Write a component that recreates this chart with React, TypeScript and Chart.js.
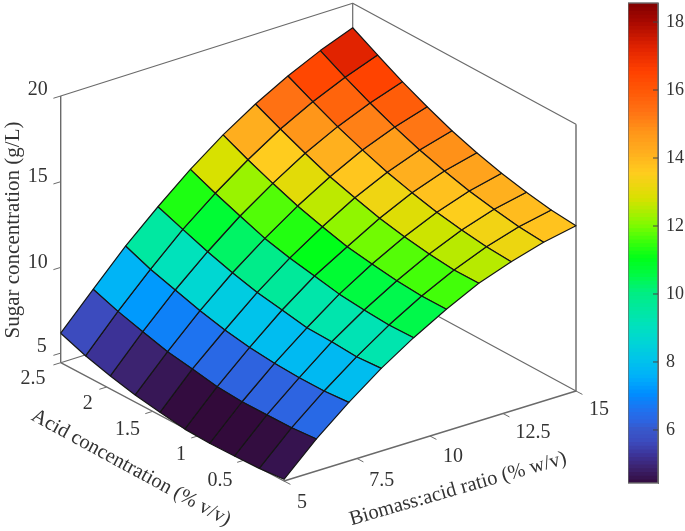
import React, { useEffect, useRef } from "react";
import { Chart, registerables } from "chart.js";

Chart.register(...registerables);

const FONT = '"Liberation Serif", "Times New Roman", serif';
const TEXT = "#333333";
const BOX = "#6a6a6a";

// Surface data: rows run along biomass ratio, columns along acid concentration
const biomassValues = [5, 6.11, 7.22, 8.33, 9.44, 10.56, 11.67, 12.78, 13.89, 15];
const acidValues = [2.5, 2.23, 1.96, 1.69, 1.42, 1.15, 0.88, 0.61, 0.34, 0.07];
const sugarRow0 = [6.16, 5.61, 5.2, 4.86, 4.61, 4.4, 4.34, 4.36, 4.41, 4.54];
const sugarRow1 = [8.14, 7.62, 7.2, 6.8, 6.56, 6.29, 6.18, 6.18, 6.2, 6.31];
const sugarRow2 = [10.08, 9.49, 9.05, 8.61, 8.25, 8.0, 7.84, 7.77, 7.76, 7.86];
const sugarRow3 = [11.79, 11.24, 10.7, 10.24, 9.86, 9.6, 9.33, 9.28, 9.17, 9.26];
const sugarRow4 = [13.39, 12.76, 12.2, 11.66, 11.28, 11.0, 10.71, 10.55, 10.44, 10.47];
const sugarRow5 = [14.81, 14.13, 13.52, 12.96, 12.52, 12.12, 11.88, 11.67, 11.55, 11.54];
const sugarRow6 = [16.03, 15.34, 14.69, 14.09, 13.63, 13.2, 12.89, 12.65, 12.48, 12.47];
const sugarRow7 = [17.08, 16.35, 15.66, 15.07, 14.53, 14.11, 13.73, 13.46, 13.26, 13.15];
const sugarRow8 = [17.98, 17.19, 16.46, 15.82, 15.25, 14.79, 14.39, 14.09, 13.84, 13.7];
const sugarRow9 = [18.73, 17.91, 17.12, 16.42, 15.79, 15.27, 14.84, 14.5, 14.23, 14.08];
const sugarGrid = [sugarRow0, sugarRow1, sugarRow2, sugarRow3, sugarRow4, sugarRow5, sugarRow6, sugarRow7, sugarRow8, sugarRow9];

const acidTicks = [2.5, 2, 1.5, 1, 0.5];
const acidTickLabels = ["2.5", "2", "1.5", "1", "0.5"];
const biomassTicks = [5, 7.5, 10, 12.5, 15];
const biomassTickLabels = ["5", "7.5", "10", "12.5", "15"];
const sugarTicks = [5, 10, 15, 20];

const colorValues = [4.35, 4.6, 4.86, 5.2, 5.6, 6, 6.2, 6.56, 7, 7.5, 8, 8.5, 9, 9.5, 10, 10.5, 11, 11.5, 12, 12.75, 13.5, 14.1, 14.7, 15.3, 16, 16.5, 17.2, 18, 18.56];
const colorStops = [
  [50, 10, 58], [55, 22, 85], [60, 35, 112], [60, 50, 150], [60, 75, 190], [55, 90, 205], [45, 100, 225], [30, 115, 240],
  [0, 140, 255], [0, 175, 250], [0, 195, 235], [0, 212, 215], [0, 225, 190], [0, 232, 160], [0, 238, 130], [0, 250, 70],
  [0, 255, 25], [60, 255, 10], [130, 250, 0], [215, 225, 0], [255, 205, 30], [255, 175, 30], [255, 150, 25], [255, 115, 20],
  [255, 85, 5], [255, 65, 0], [225, 35, 0], [165, 8, 0], [125, 0, 0],
];

const ZMIN = 4.44;
const ZMAX = 20;
const ACID_HI = 2.5;
const ACID_LO = 0.07;
const BIO_LO = 5;
const BIO_HI = 15;

// Orthographic view of the 3D axes box, expressed in the chart's own linear scales
const VIEW_A = { x: 60.7, y: 362.7 };
const VIEW_F = { x: 284, y: 481 };
const VIEW_R = { x: 576, y: 391 };
const VIEW_ZSPAN = 266.7;
const BACK_LIFT = 2.7;

function project(acid: number, biomass: number, z: number) {
  const v = (ACID_HI - acid) / (ACID_HI - ACID_LO);
  const u = (biomass - BIO_LO) / (BIO_HI - BIO_LO);
  const h = ((z - ZMIN) / (ZMAX - ZMIN)) * VIEW_ZSPAN;
  return {
    x: VIEW_A.x + v * (VIEW_F.x - VIEW_A.x) + u * (VIEW_R.x - VIEW_F.x),
    y: VIEW_A.y + v * (VIEW_F.y - VIEW_A.y) + u * (VIEW_R.y - VIEW_F.y) - h,
  };
}

// The back corner of the box sits slightly higher than a pure parallelogram
function backCorner(z: number) {
  const p = project(ACID_HI, BIO_HI, z);
  return { x: p.x, y: p.y - BACK_LIFT };
}

function colorFor(value: number) {
  let k = 0;
  while (k < colorValues.length - 2 && value > colorValues[k + 1]) k++;
  const t = Math.max(0, Math.min(1, (value - colorValues[k]) / (colorValues[k + 1] - colorValues[k])));
  const c = colorStops[k].map((a, n) => Math.round(a + t * (colorStops[k + 1][n] - a)));
  return `rgb(${c[0]},${c[1]},${c[2]})`;
}

function lineDataset(points: { x: number; y: number }[], color: string, width: number, order: number) {
  return {
    data: points,
    borderColor: color,
    borderWidth: width,
    backgroundColor: "transparent",
    pointRadius: 0,
    tension: 0,
    fill: false,
    order,
  };
}

function buildSurface() {
  const sets: any[] = [];
  for (let j = 0; j < biomassValues.length - 1; j++) {
    for (let i = 0; i < acidValues.length - 1; i++) {
      const corners: [number, number][] = [[j, i], [j, i + 1], [j + 1, i + 1], [j + 1, i], [j, i]];
      const pts = corners.map(([b, a]) => project(acidValues[a], biomassValues[b], sugarGrid[b][a]));
      sets.push({
        data: pts,
        borderColor: "#151515",
        borderWidth: 1.2,
        backgroundColor: colorFor(sugarGrid[j][i + 1]),
        pointRadius: 0,
        tension: 0,
        fill: "shape",
        order: 1,
      });
    }
  }
  return sets;
}

function buildBox() {
  const c = (a: number, b: number, z: number) => project(a, b, z);
  const sets: any[] = [];
  const back = [
    [c(ACID_HI, BIO_LO, ZMIN), backCorner(ZMIN), c(ACID_LO, BIO_HI, ZMIN)],
    [c(ACID_HI, BIO_LO, ZMAX), backCorner(ZMAX), c(ACID_LO, BIO_HI, ZMAX)],
    [backCorner(ZMIN), backCorner(ZMAX)],
  ];
  back.forEach((p) => sets.push(lineDataset(p, BOX, 1.2, 5)));
  const ruled = [
    [c(ACID_HI, BIO_LO, ZMIN), c(ACID_HI, BIO_LO, ZMAX)],
    [c(ACID_HI, BIO_LO, ZMIN), c(ACID_LO, BIO_LO, ZMIN), c(ACID_LO, BIO_HI, ZMIN), c(ACID_LO, BIO_HI, ZMAX)],
  ];
  ruled.forEach((p) => sets.push(lineDataset(p, BOX, 1.4, 5)));
  // tick marks
  acidTicks.forEach((a) => sets.push(lineDataset([c(a, BIO_LO, ZMIN), c(a, BIO_LO - 0.25, ZMIN)], BOX, 1, 5)));
  biomassTicks.forEach((b) => sets.push(lineDataset([c(ACID_LO, b, ZMIN), c(ACID_LO - 0.07, b, ZMIN)], BOX, 1, 5)));
  sugarTicks.forEach((z) => sets.push(lineDataset([c(ACID_HI, BIO_LO, z), c(ACID_HI, BIO_LO - 0.25, z)], BOX, 1, 5)));
  return sets;
}

const sugarLabelOffsets = [[-19, -6], [-23, -5], [-23, -5], [-23, -6]];
const acidLabelOffsets = [[-27.7, 16.3], [-19, 17], [-25, 18.6], [-17.5, 18.6], [-24.5, 20.7]];
const biomassLabelOffsets = [[18, 22], [24.7, 22], [23, 21], [30, 19.5], [23, 19]];

const textPlugin = {
  id: "labels3d",
  afterDatasetsDraw(chart: any) {
    const { ctx, scales } = chart;
    const put = (txt: string, x: number, y: number, size: number, rot = 0) => {
      ctx.save();
      ctx.translate(scales.x.getPixelForValue(x), scales.y.getPixelForValue(y));
      ctx.rotate((rot * Math.PI) / 180);
      ctx.font = `${size}px ${FONT}`;
      ctx.fillStyle = TEXT;
      ctx.textAlign = "center";
      ctx.textBaseline = "middle";
      ctx.fillText(txt, 0, 0);
      ctx.restore();
    };
    sugarTicks.forEach((z, n) => {
      const p = project(ACID_HI, BIO_LO, z);
      put(String(z), p.x + sugarLabelOffsets[n][0], p.y + sugarLabelOffsets[n][1], 20);
    });
    acidTicks.forEach((a, n) => {
      const p = project(a, BIO_LO, ZMIN);
      put(acidTickLabels[n], p.x + acidLabelOffsets[n][0], p.y + acidLabelOffsets[n][1], 20);
    });
    biomassTicks.forEach((b, n) => {
      const p = project(ACID_LO, b, ZMIN);
      put(biomassTickLabels[n], p.x + biomassLabelOffsets[n][0], p.y + biomassLabelOffsets[n][1], 20);
    });
    put("Sugar concentration (g/L)", 13, 230, 21, -90);
    put("Acid concentration (% v/v)", 131, 468, 20.5, 28.5);
    put("Biomass:acid ratio (% w/v)", 458, 489, 20.5, -16);
  },
};

const barTicks = [6, 8, 10, 12, 14, 16, 18];

export default function App() {
  const mainRef = useRef<HTMLCanvasElement>(null);
  const barRef = useRef<HTMLCanvasElement>(null);

  useEffect(() => {
    document.body.style.margin = "0";
    const main = new Chart(mainRef.current!, {
      type: "line",
      data: { datasets: [...buildBox(), ...buildSurface()] },
      options: {
        responsive: false,
        animation: false,
        parsing: false,
        normalized: true,
        layout: { padding: 0 },
        plugins: { legend: { display: false }, tooltip: { enabled: false }, filler: { propagate: false } },
        elements: { line: { borderJoinStyle: "round" } },
        scales: {
          x: { type: "linear", min: 0, max: 620, display: false },
          y: { type: "linear", min: 0, max: 531, reverse: true, display: false },
        },
      } as any,
      plugins: [textPlugin],
    });

    const steps: number[] = [];
    for (let k = 0; k < 128; k++) steps.push(ZMIN + ((18.56 - ZMIN) * k) / 128);
    const bars = new Chart(barRef.current!, {
      type: "bar",
      data: {
        labels: ["colorbar"],
        datasets: steps
          .slice()
          .reverse()
          .map((v) => ({
            data: [[v, 18.56]] as any,
            backgroundColor: colorFor(v),
            grouped: false,
            barPercentage: 1,
            categoryPercentage: 1,
            borderWidth: 0,
          })),
      },
      options: {
        responsive: false,
        animation: false,
        layout: { padding: { top: 3, bottom: 48 } },
        plugins: { legend: { display: false }, tooltip: { enabled: false } },
        scales: {
          x: { display: false },
          y: {
            position: "right",
            min: 4.44,
            max: 18.56,
            afterBuildTicks: (axis: any) => {
              axis.ticks = barTicks.map((value) => ({ value }));
            },
            ticks: { color: TEXT, font: { family: FONT, size: 18 }, padding: 8, callback: (v: any) => String(v) },
            grid: { display: false, tickLength: 0 },
            border: { color: BOX, width: 1 },
            afterFit: (axis: any) => {
              axis.width = 27;
              axis.paddingTop = 0;
              axis.paddingBottom = 0;
            },
          },
        },
      } as any,
      plugins: [
        {
          id: "barFrame",
          afterDraw(chart: any) {
            const { ctx, chartArea: a, scales } = chart;
            ctx.save();
            ctx.strokeStyle = BOX;
            ctx.lineWidth = 1.4;
            ctx.strokeRect(a.left, a.top, a.right - a.left, a.bottom - a.top);
            ctx.lineWidth = 1;
            ctx.strokeStyle = "#444";
            barTicks.forEach((t) => {
              const y = scales.y.getPixelForValue(t);
              ctx.beginPath();
              ctx.moveTo(a.right, y);
              ctx.lineTo(a.right - 5, y);
              ctx.stroke();
            });
            ctx.restore();
          },
        },
      ],
    });
    return () => {
      main.destroy();
      bars.destroy();
    };
  }, []);

  return (
    <div style={{ position: "relative", width: 685, height: 531, background: "#fff", overflow: "hidden" }}>
      <canvas ref={mainRef} width={620} height={531} style={{ position: "absolute", left: 0, top: 0 }} />
      <canvas ref={barRef} width={57} height={531} style={{ position: "absolute", left: 628, top: 0 }} />
    </div>
  );
}
